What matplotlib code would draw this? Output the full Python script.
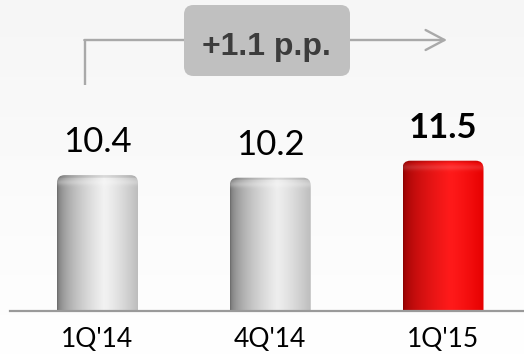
import numpy as np
import matplotlib
matplotlib.use("Agg")
import matplotlib.pyplot as plt
from matplotlib.patches import FancyBboxPatch
from matplotlib.colors import to_rgb

# data
periods = ["1Q'14", "4Q'14", "1Q'15"]
values = [10.4, 10.2, 11.5]
change_label = "+1.1 p.p."

W, H = 524, 355
fig = plt.figure(figsize=(W / 100, H / 100), dpi=100)

# soft grey-to-white background
bg = fig.add_axes([0, 0, 1, 1], zorder=-10)
grad = np.linspace(0.965, 1.0, 256).reshape(-1, 1)
bg.imshow(np.dstack([grad] * 3), aspect="auto", extent=(0, 1, 0, 1), origin="upper")
bg.axis("off")

# main axes laid out in pixels: baseline at y=311, bar centres 97.5 / 270 / 443
base_px = 311
px_x = 172.75          # pixels per category
px_y = 13.07           # pixels per unit
x0_px = 97.5
ax = fig.add_axes([0, (H - base_px) / H, 1, base_px / H])
ax.patch.set_alpha(0)
ax.set_xlim(-x0_px / px_x, (W - x0_px) / px_x)
ax.set_ylim(0, base_px / px_y)
ax.axis("off")


def px2data(px, py):
    return (px - x0_px) / px_x, (base_px - py) / px_y


def bar_image(h, dark, light, right, rim):
    nx, ny = 120, 300
    t = np.linspace(0, 1, nx)
    c_dark, c_light, c_right = map(np.array, (dark, light, right))
    cols = np.empty((nx, 3))
    for i, v in enumerate(t):
        if v < 0.58:
            f = (v / 0.58) ** 0.5
            cols[i] = c_dark + (c_light - c_dark) * f
        else:
            f = ((v - 0.58) / 0.42) ** 1.3
            cols[i] = c_light + (c_right - c_light) * f
    img = np.repeat(cols[None, :, :], ny, axis=0)
    # rounded top rim highlight
    d = np.linspace(0, h * px_y, ny)[:, None]
    hl = rim * np.exp(-((d - 7) / 3.0) ** 2)
    img = img + (1 - img) * hl[:, :, None]
    shade = np.where(d < 2.5, 0.9, 1.0)
    img = img * shade[:, :, None]
    return np.clip(img, 0, 1)


xs = np.arange(len(values))
bars = ax.bar(xs, values, width=81 / px_x, color="none", edgecolor="none")
styles = [
    (to_rgb("#6a6a6a"), to_rgb("#f2f2f2"), to_rgb("#bdbdbd"), 0.25),
    (to_rgb("#6a6a6a"), to_rgb("#eeeeee"), to_rgb("#bdbdbd"), 0.25),
    (to_rgb("#8a0000"), to_rgb("#ff1a1a"), to_rgb("#e60000"), 0.12),
]
for b, (dk, lt, rt, rim) in zip(bars, styles):
    bx, bw, bh = b.get_x(), b.get_width(), b.get_height()
    clip = FancyBboxPatch((bx, -1), bw, bh + 1,
                          boxstyle="round,pad=0,rounding_size=0.045",
                          mutation_aspect=px_x / px_y,
                          facecolor="none", edgecolor="none",
                          transform=ax.transData)
    ax.add_patch(clip)
    im = ax.imshow(bar_image(bh, dk, lt, rt, rim), aspect="auto",
                   extent=(bx, bx + bw, 0, bh), origin="upper", zorder=2)
    im.set_clip_path(clip)

ax.set_xlim(-x0_px / px_x, (W - x0_px) / px_x)
ax.set_ylim(0, base_px / px_y)

# baseline
ax.axhline(0, xmin=10 / W, xmax=1, color="#9a9a9a", lw=1.6, zorder=3, clip_on=False)

# value labels
for i, v in enumerate(values):
    bold = i == len(values) - 1
    ax.text(xs[i], v + 23 / px_y, f"{v:.1f}", ha="center", va="baseline",
            fontsize=25, family=["Lato", "DejaVu Sans"],
            fontweight="bold" if bold else "normal", color="black")

# category labels
for i, p in enumerate(periods):
    ax.text(xs[i], -(347 - base_px) / px_y, p, ha="center", va="baseline",
            fontsize=19, family=["Lato", "DejaVu Sans"], color="black",
            clip_on=False)

# change bracket and arrow
arrow_c = "#a9a9a9"
vx, vy0 = px2data(85, 85)
_, vy1 = px2data(85, 40)
ax.plot([vx, vx], [vy0, vy1], color=arrow_c, lw=1.7, solid_capstyle="butt",
        zorder=4, clip_on=False)
ex, _ = px2data(447, 40)
ax.annotate("", xy=(ex, vy1), xytext=(vx - 0.004, vy1),
            arrowprops=dict(arrowstyle="->,head_length=0.68,head_width=0.36",
                            color=arrow_c, lw=1.7, mutation_scale=20,
                            shrinkA=0, shrinkB=0),
            zorder=4, annotation_clip=False)

# label box with shadow
bx0, by0 = px2data(184, 73)
bx1, by1 = px2data(350, 5)
for off, fc, z in [(3, "#9c9c9c", 5), (0, "#c0c0c0", 6)]:
    sx, sy = 0.0, -off / px_y
    box = FancyBboxPatch((bx0 + sx, by0 + sy), bx1 - bx0, by1 - by0,
                         boxstyle="round,pad=0,rounding_size=0.055",
                         mutation_aspect=px_x / px_y,
                         facecolor=fc, edgecolor="none", alpha=0.6 if off else 1,
                         zorder=z, clip_on=False, transform=ax.transData)
    ax.add_patch(box)
tx, ty = px2data(266, 55)
ax.text(tx, ty, change_label, ha="center", va="baseline", fontsize=23,
        fontweight="bold", family=["Liberation Sans", "DejaVu Sans"],
        color="#3c3c3c", zorder=7)

fig.savefig("out.png", dpi=100)
